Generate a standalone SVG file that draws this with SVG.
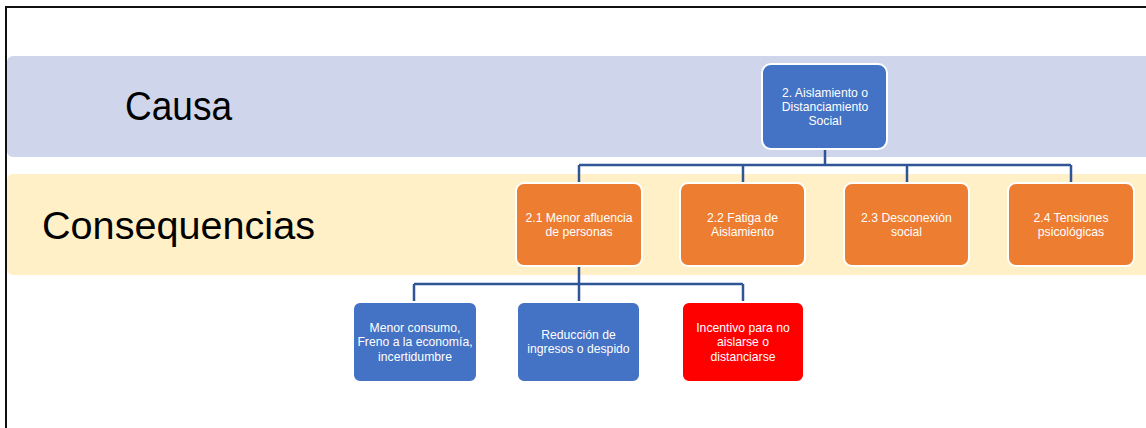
<svg xmlns="http://www.w3.org/2000/svg" width="1146" height="428" viewBox="0 0 1146 428">
<style>
.band-c{fill:#CFD5EA}
.band-q{fill:#FFF0C7}
.lbl{font-family:"Liberation Sans",Arial,sans-serif;fill:#000}
.node rect{stroke:#fff;stroke-width:2}
.blue{fill:#4472C4}
.orange{fill:#ED7D31}
.red{fill:#FF0000}
.t{font-family:"Liberation Sans",Arial,sans-serif;font-size:12.2px;fill:#fff;text-anchor:middle}
.conn{fill:none;stroke:#2F5597;stroke-width:2.5}
</style>
<rect x="0" y="0" width="1146" height="428" fill="#fff"/>
<path d="M6,428 V7 H1146" fill="none" stroke="#111" stroke-width="2"/>
<rect class="band-c" x="7" y="56" width="1150" height="101" rx="6"/>
<rect class="band-q" x="7" y="174" width="1150" height="101" rx="6"/>
<text class="lbl" x="125" y="120" font-size="40" textLength="107" lengthAdjust="spacingAndGlyphs">Causa</text>
<text class="lbl" x="42" y="239" font-size="38" textLength="273" lengthAdjust="spacingAndGlyphs">Consequencias</text>
<g id="connectors">
<path class="conn" d="M825,148 V165 M579,165 H1071 M579,165 V183 M743,165 V183 M907,165 V183 M1071,165 V183"/>
<path class="conn" d="M579,266 V284 M414,284 H743 M414,284 V302 M579,284 V302 M743,284 V302"/>
</g>
<g id="root" class="node">
<rect class="blue" x="762" y="64" width="125" height="85" rx="9"/>
<text class="t" x="825" y="97">2. Aislamiento o</text>
<text class="t" x="825" y="111">Distanciamiento</text>
<text class="t" x="825" y="125">Social</text>
</g>
<g id="n21" class="node">
<rect class="orange" x="516" y="183" width="126" height="83" rx="8"/>
<text class="t" x="579" y="222">2.1 Menor afluencia</text>
<text class="t" x="579" y="236">de personas</text>
</g>
<g id="n22" class="node">
<rect class="orange" x="680" y="183" width="125" height="83" rx="8"/>
<text class="t" x="742.5" y="222">2.2 Fatiga de</text>
<text class="t" x="742.5" y="236">Aislamiento</text>
</g>
<g id="n23" class="node">
<rect class="orange" x="844" y="183" width="125" height="83" rx="8"/>
<text class="t" x="906.5" y="222">2.3 Desconexión</text>
<text class="t" x="906.5" y="236">social</text>
</g>
<g id="n24" class="node">
<rect class="orange" x="1008" y="183" width="126" height="83" rx="8"/>
<text class="t" x="1071" y="222">2.4 Tensiones</text>
<text class="t" x="1071" y="236">psicológicas</text>
</g>
<g id="b1" class="node">
<rect class="blue" x="353" y="302" width="124" height="80" rx="7"/>
<text class="t" x="415" y="332">Menor consumo,</text>
<text class="t" x="415" y="346">Freno a la economía,</text>
<text class="t" x="415" y="361">incertidumbre</text>
</g>
<g id="b2" class="node">
<rect class="blue" x="517" y="302" width="123" height="80" rx="7"/>
<text class="t" x="578.5" y="339">Reducción de</text>
<text class="t" x="578.5" y="353">ingresos o despido</text>
</g>
<g id="b3" class="node">
<rect class="red" x="682" y="302" width="122" height="80" rx="7"/>
<text class="t" x="743" y="332">Incentivo para no</text>
<text class="t" x="743" y="346">aislarse o</text>
<text class="t" x="743" y="361">distanciarse</text>
</g>
</svg>
